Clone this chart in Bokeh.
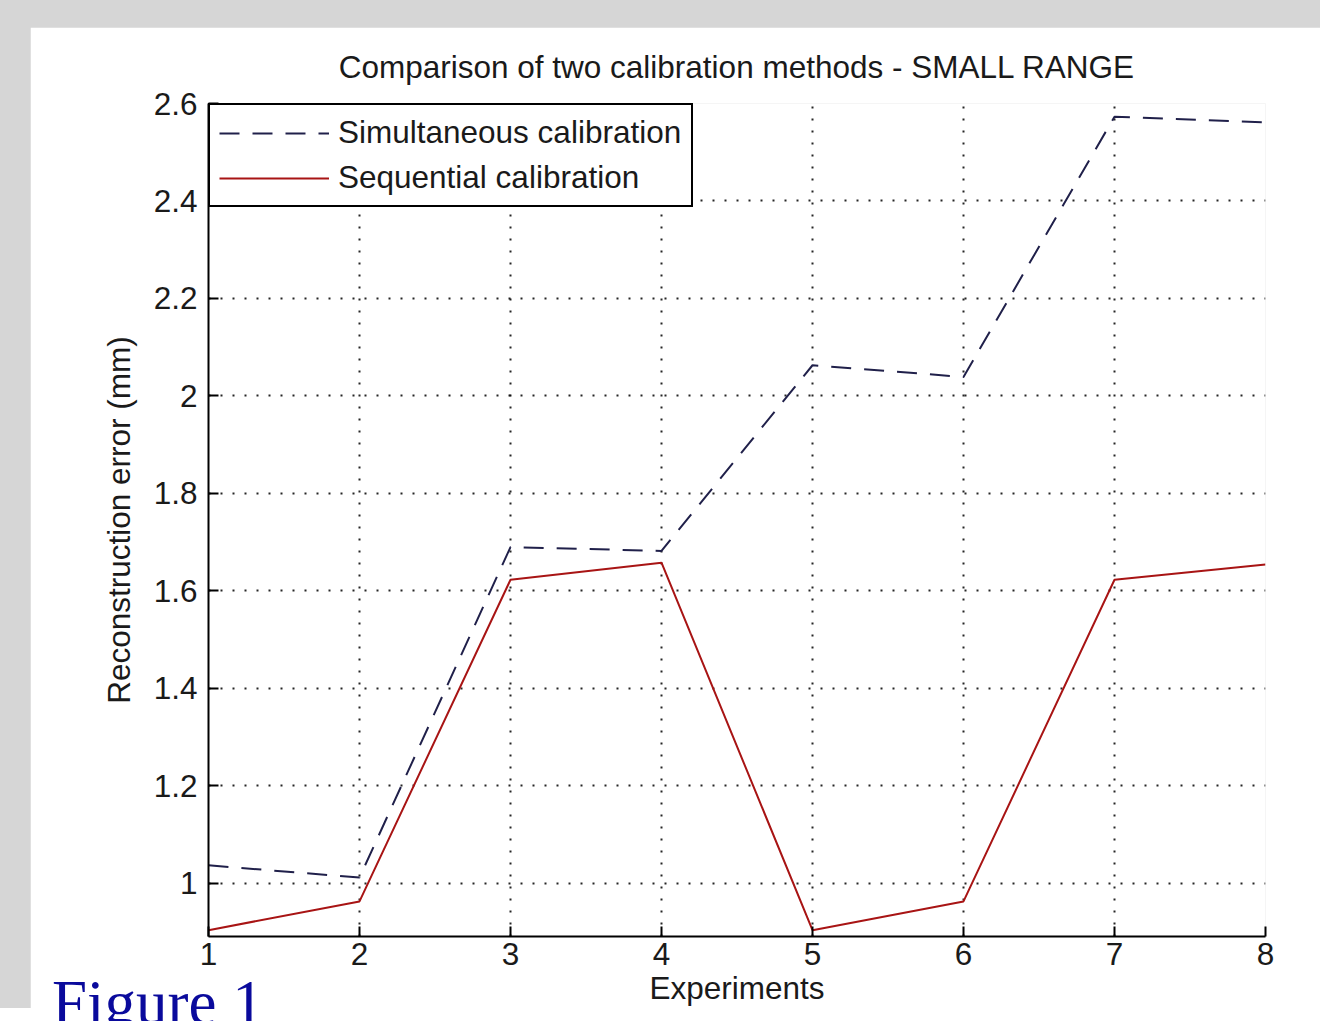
from bokeh.plotting import figure
from bokeh.models import Range1d, FixedTicker, Legend, LegendItem, Spacer, Div
from bokeh.layouts import column, row
from bokeh.embed import file_html
from bokeh.resources import INLINE

experiments = [1, 2, 3, 4, 5, 6, 7, 8]
simultaneous = [1.037, 1.012, 1.690, 1.682, 2.063, 2.039, 2.573, 2.561]
sequential = [0.904, 0.963, 1.623, 1.658, 0.904, 0.963, 1.623, 1.654]
y_ticks = [1.0, 1.2, 1.4, 1.6, 1.8, 2.0, 2.2, 2.4, 2.6]
y_tick_labels = ["1", "1.2", "1.4", "1.6", "1.8", "2", "2.2", "2.4", "2.6"]

FONT = "Liberation Sans"
TXT = "#1a1a1a"
GRAY = "#d6d6d6"
FS = "31.5px"

fig = figure(width=1290, height=981, output_backend="svg", toolbar_location=None,
             x_range=Range1d(1, 8), y_range=Range1d(0.891, 2.6),
             min_border_left=178, min_border_right=55, min_border_top=76, min_border_bottom=71)

fig.border_fill_color = "white"
fig.background_fill_color = "white"
fig.outline_line_color = None

fig.title.text = "Comparison of two calibration methods - SMALL RANGE"
fig.title.align = "center"
fig.title.text_font = FONT
fig.title.text_font_size = FS
fig.title.text_font_style = "normal"
fig.title.text_color = TXT
fig.title.standoff = 38

fig.xaxis.ticker = FixedTicker(ticks=experiments)
fig.yaxis.ticker = FixedTicker(ticks=y_ticks)
fig.yaxis.major_label_overrides = {t: l for t, l in zip(y_ticks, y_tick_labels)}
fig.xaxis.axis_label = "Experiments"
fig.yaxis.axis_label = "Reconstruction error (mm)"

for ax in (fig.xaxis[0], fig.yaxis[0]):
    ax.axis_line_color = "black"
    ax.axis_line_width = 2
    ax.major_tick_in = 10
    ax.major_tick_out = 0
    ax.major_tick_line_color = "black"
    ax.major_tick_line_width = 2
    ax.minor_tick_line_color = None
    ax.major_label_text_font = FONT
    ax.major_label_text_font_size = FS
    ax.major_label_text_color = TXT
    ax.axis_label_text_font = FONT
    ax.axis_label_text_font_size = FS
    ax.axis_label_text_font_style = "normal"
    ax.axis_label_text_color = TXT

fig.xaxis.major_label_standoff = 6
fig.xaxis.axis_label_standoff = 2
fig.yaxis.major_label_standoff = 11
fig.yaxis.axis_label_standoff = 14

for g in (fig.xgrid[0], fig.ygrid[0]):
    g.grid_line_color = "black"
    g.grid_line_width = 2
    g.grid_line_dash = "2 10"
    g.grid_line_alpha = 0.85

r1 = fig.line(experiments, simultaneous, line_color="#20204a", line_width=2, line_dash="20 13")
r2 = fig.line(experiments, sequential, line_color="#a81414", line_width=2)

legend = Legend(items=[LegendItem(label="Simultaneous calibration", renderers=[r1]),
                       LegendItem(label="Sequential calibration", renderers=[r2])],
                location="top_left", margin=0, padding=9, spacing=8,
                glyph_width=110, glyph_height=28, label_height=28, label_standoff=9,
                label_width=344,
                label_text_font=FONT, label_text_font_size=FS, label_text_color=TXT,
                border_line_color="black", border_line_width=2, border_line_alpha=1.0,
                background_fill_color="white", background_fill_alpha=1.0)
fig.add_layout(legend, "center")

fig_caption = Div(text="Figure 1", width=300, height=49,
                  styles={"position": "absolute", "left": "47px", "top": "967px",
                          "font-family": "Liberation Serif", "font-size": "63px",
                          "line-height": "1", "color": "#0a0a9c", "z-index": "10",
                          "white-space": "nowrap", "overflow": "hidden"})

top_band = Spacer(width=1320, height=27, styles={"background-color": GRAY})
left_band = Spacer(width=30, height=981, styles={"background-color": GRAY})
p = column(top_band, row(left_band, fig, spacing=0), fig_caption, spacing=0,
           styles={"background-color": GRAY, "position": "relative"})

open("out.html", "w").write(file_html(p, INLINE))
